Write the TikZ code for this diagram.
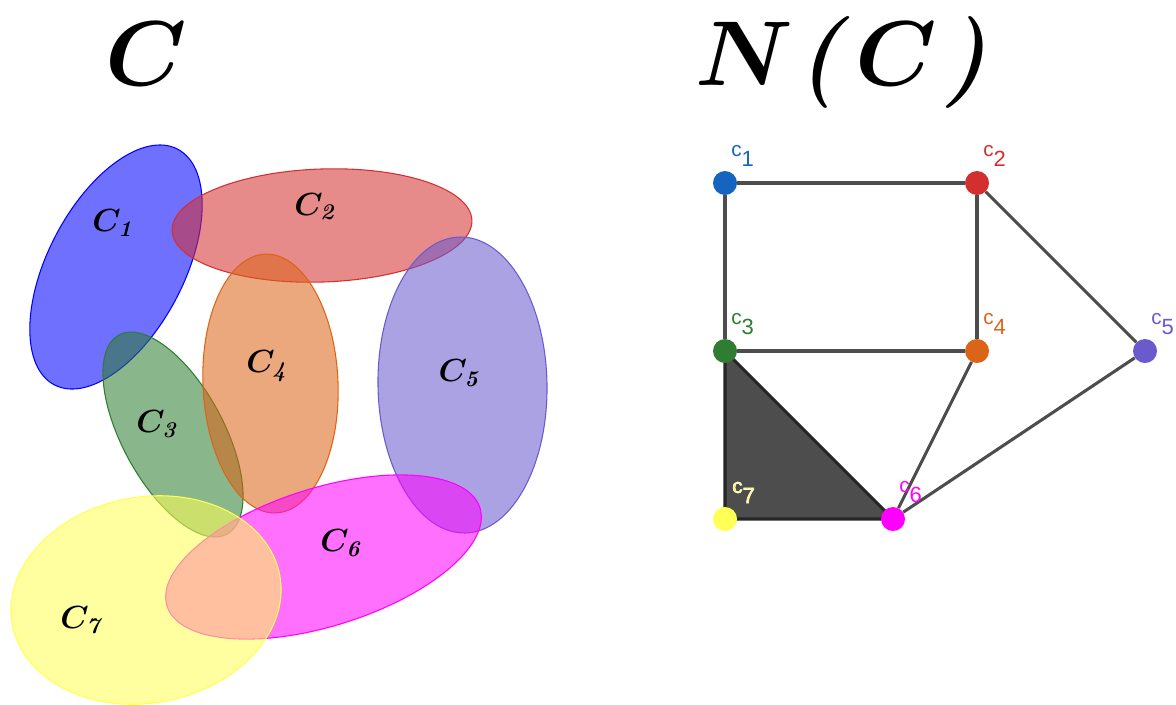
\documentclass[tikz,border=0pt]{standalone}
\usepackage{fix-cm}
\usepackage{amsmath}
\usepackage{bm}
\usepackage{fontspec}
\newfontfamily\labfont{Liberation Sans}
\usetikzlibrary{calc,backgrounds}
\definecolor{eblue}{HTML}{0000FF}
\definecolor{ered}{HTML}{D32F2F}
\definecolor{egreen}{HTML}{2E7D32}
\definecolor{eorange}{HTML}{DC6418}
\definecolor{epurple}{HTML}{6A5ACD}
\definecolor{emag}{HTML}{FF00FF}
\definecolor{eyel}{HTML}{FFFF55}
\definecolor{nblue}{HTML}{1565C0}
\definecolor{edgegray}{HTML}{4D4D4D}
\definecolor{tridark}{HTML}{262626}
\newcommand{\halotext}[1]{\special{pdf:literal direct 2 Tr 0.4 w 1 1 1 RG}#1\special{pdf:literal direct 0 Tr}}
\newcommand{\gsub}[1]{c\raisebox{-7.5pt}{\fontsize{16.5}{18}\selectfont #1}}
\tikzset{
  blob/.style={draw=#1, fill=#1, fill opacity=0.56, line width=0.8pt},
  elab/.style={font=\fontsize{24}{28}\selectfont, anchor=base west, inner sep=0pt},
  ttl/.style={font=\fontsize{69}{80}\selectfont, anchor=base west, inner sep=0pt},
  gnode/.style={circle, inner sep=0pt, minimum size=18pt, fill=#1},
  glab/.style={font=\labfont\fontsize{15.5}{18}\selectfont, anchor=base west, inner sep=0pt, text=#1},
  gedge/.style={draw=edgegray, line width=2.3pt},
  tri/.style={fill=edgegray, draw=tridark, line width=2.3pt, line join=round}
}
\begin{document}
\begin{tikzpicture}[x=0.75pt,y=-0.75pt]
\useasboundingbox (0,0) rectangle (1176,704);
% titles
\node[ttl] (tC) at (105,85) {$\bm{C}$};
\node[ttl] (tNC) at (695,85) {$\bm{N}$\kern3.5pt\textbf{\textit{(}}\kern4pt$\bm{C}$\kern5pt\textbf{\textit{)}}};
% ellipses
\path[blob=eblue, shift={(116,267)}, rotate=62.4] (0,0) ellipse [x radius=133, y radius=68];
\path[blob=ered, shift={(322,225.5)}, rotate=2] (0,0) ellipse [x radius=150, y radius=56.5];
\path[blob=egreen, shift={(173,434.5)}, rotate=118.5] (0,0) ellipse [x radius=113.3, y radius=50.7];
\path[blob=eorange, shift={(270.5,383.5)}, rotate=2.4] (0,0) ellipse [x radius=67.5, y radius=129.5];
\path[blob=epurple, shift={(462.5,385)}, rotate=1] (0,0) ellipse [x radius=84.5, y radius=148];
\path[blob=emag, shift={(323.5,557)}, rotate=17.4] (0,0) ellipse [x radius=164, y radius=69];
\path[blob=eyel, shift={(146,600)}, rotate=10.4] (0,0) ellipse [x radius=136, y radius=103];
% ellipse labels
\node[elab] (L1) at (92,231.7) {$\bm{C}_{\textbf{\textit{1}}}$};
\node[elab] (L2) at (294,215) {$\bm{C}_{\textbf{\textit{2}}}$};
\node[elab] (L3) at (136,432.7) {$\bm{C}_{\textbf{\textit{3}}}$};
\node[elab] (L4) at (246,372.7) {$\bm{C}_{\textbf{\textit{4}}}$};
\node[elab] (L5) at (438.3,381.7) {$\bm{C}_{\textbf{\textit{5}}}$};
\node[elab] (L6) at (320,551.7) {$\bm{C}_{\textbf{\textit{6}}}$};
\node[elab] (L7) at (60,628.3) {$\bm{C}_{\textbf{\textit{7}}}$};
% graph nodes
\node[gnode=nblue] (c1) at (725,183) {};
\node[gnode=ered] (c2) at (977,183) {};
\node[gnode=egreen] (c3) at (725,351) {};
\node[gnode=eorange] (c4) at (977,351) {};
\node[gnode=epurple] (c5) at (1145,351) {};
\node[gnode=emag] (c6) at (893,519) {};
\node[gnode=eyel] (c7) at (725,519) {};
\begin{pgfonlayer}{background}
\path[tri] (c3.center) -- (c7.center) -- (c6.center) -- cycle;
\draw[gedge] (c1) -- (c2);
\draw[gedge] (c1) -- (c3);
\draw[gedge] (c2) -- (c4);
\draw[gedge] (c2) -- (c5);
\draw[gedge] (c3) -- (c4);
\draw[gedge] (c4) -- (c6);
\draw[gedge] (c5) -- (c6);
\end{pgfonlayer}
% graph labels
\node[glab=nblue] (g1) at ($(c1)+(6,-27)$) {\gsub{1}};
\node[glab=ered] (g2) at ($(c2)+(6,-27)$) {\gsub{2}};
\node[glab=egreen] (g3) at ($(c3)+(6,-27)$) {\gsub{3}};
\node[glab=eorange] (g4) at ($(c4)+(6,-27)$) {\gsub{4}};
\node[glab=epurple] (g5) at ($(c5)+(6,-27)$) {\gsub{5}};
\node[glab=emag] (g6) at ($(c6)+(6,-27)$) {\gsub{6}};
\node[glab=eyel] (g7) at ($(c7)+(7,-26)$) {\halotext{\gsub{7}}};
\end{tikzpicture}
\end{document}
